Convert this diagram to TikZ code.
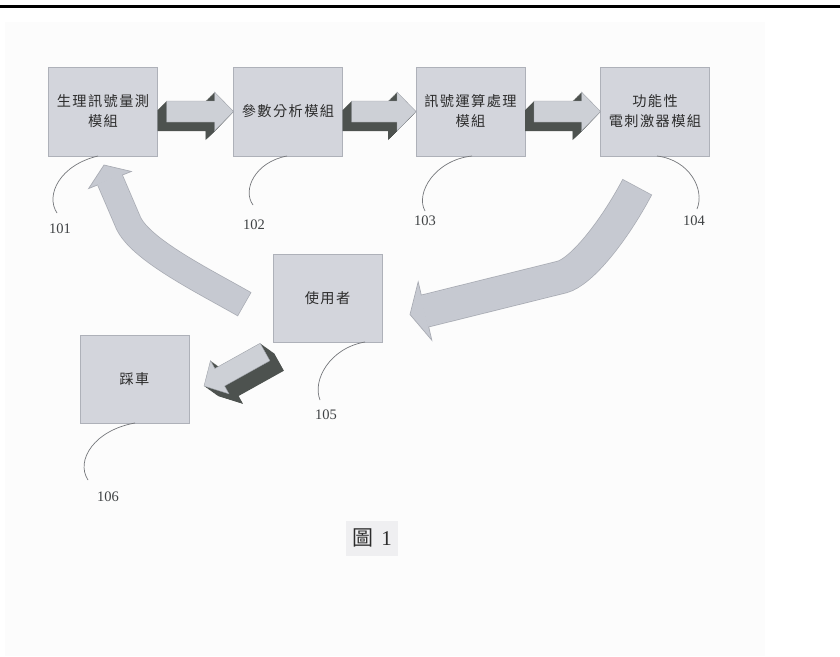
\documentclass[tikz,border=0pt]{standalone}
\usepackage{fontspec}
\setmainfont{Liberation Serif}
\newfontfamily\cjk[LetterSpace=10]{Noto Sans CJK TC}
\newfontfamily\cjkplain{Noto Sans CJK TC}
\usetikzlibrary{calc}
\definecolor{pagebg}{HTML}{FCFCFC}
\definecolor{boxfill}{HTML}{D3D5DC}
\definecolor{boxline}{HTML}{AEB1B9}
\definecolor{txtgray}{HTML}{2C2C2C}
\definecolor{lblgray}{HTML}{3F4244}
\definecolor{leadgray}{HTML}{75777B}
\definecolor{arrowfill}{HTML}{C6C9D1}
\definecolor{arrowline}{HTML}{A9ACB4}
\definecolor{tdfrontc}{HTML}{CDD0D6}
\definecolor{tdlinec}{HTML}{9EA2A9}
\definecolor{tddarkc}{HTML}{4D524F}
\definecolor{capbg}{HTML}{EFEFF1}
\tikzset{
  modbox/.style={draw=boxline, line width=0.6pt, fill=boxfill,
    minimum width=109pt, minimum height=89pt, inner sep=0pt, outer sep=0pt,
    text=txtgray, align=center, font=\cjk\fontsize{14.2}{20}\selectfont},
  lbl/.style={text=lblgray, font=\fontsize{14.5}{16}\selectfont, inner sep=1pt},
  leader/.style={draw=leadgray, line width=0.7pt},
  tdfront/.style={fill=tdfrontc, draw=tdlinec, line width=0.4pt},
  tddark/.style={fill=tddarkc},
}
\newcommand\tdarrow[7]{%
  \coordinate (tdT) at (#1);
  \coordinate (tdP) at (#2);
  \coordinate (tdH) at ($(tdP)!#5!(tdT)$);
  \coordinate (tdA) at ($(tdT)!#3!90:(tdP)$);
  \coordinate (tdB) at ($(tdH)!#3!90:(tdP)$);
  \coordinate (tdC) at ($(tdH)!#4!90:(tdP)$);
  \coordinate (tdE) at ($(tdH)!#4!-90:(tdP)$);
  \coordinate (tdF) at ($(tdH)!#3!-90:(tdP)$);
  \coordinate (tdG) at ($(tdT)!#3!-90:(tdP)$);
  \foreach \k in {1,0.95,...,0.04}{
    \fill[tddark] ($(tdA)+\k*(#6,#7)$) -- ($(tdB)+\k*(#6,#7)$) -- ($(tdC)+\k*(#6,#7)$)
      -- ($(tdP)+\k*(#6,#7)$) -- ($(tdE)+\k*(#6,#7)$) -- ($(tdF)+\k*(#6,#7)$)
      -- ($(tdG)+\k*(#6,#7)$) -- cycle;
  }
  \filldraw[tdfront] (tdA) -- (tdB) -- (tdC) -- (tdP) -- (tdE) -- (tdF) -- (tdG) -- cycle;
}
\begin{document}
\begin{tikzpicture}[x=1pt,y=-1pt]
\useasboundingbox (0,0) rectangle (840,656);
\fill[white] (0,0) rectangle (840,656);
\fill[pagebg] (5,22) rectangle (765,656);
\draw[line width=2.5pt] (0,6.5) -- (840,6.5);

% boxes
\node[modbox] (b101) at (103,111.5) {生理訊號量測\\模組};
\node[modbox] (b102) at (288,111.5) {參數分析模組};
\node[modbox] (b103) at (470.5,111.5) {訊號運算處理\\模組};
\node[modbox] (b104) at (655,111.5) {功能性\\電刺激器模組};
\node[modbox, minimum height=88pt] (b105) at (327.5,298) {使用者};
\node[modbox, minimum height=88pt] (b106) at (134.5,379) {踩車};

% labels
\node[lbl] (l101) at (60,229) {101};
\node[lbl] (l102) at (254,225) {102};
\node[lbl] (l103) at (425,221) {103};
\node[lbl] (l104) at (694,221) {104};
\node[lbl] (l105) at (326,415) {105};
\node[lbl] (l106) at (108,497) {106};

% leader curves
\draw[leader] ($(b101.south)+(-5,0)$) .. controls +(-38,9) and +(-12,-18) .. ($(l101.center)+(-3,-16)$);
\draw[leader] ($(b102.south)+(-1,0)$) .. controls +(-32,6) and +(-11,-15) .. ($(l102.center)+(-1,-20)$);
\draw[leader] ($(b103.south)+(1.5,0)$) .. controls +(-37,4) and +(-10,-18) .. ($(l103.center)+(0,-10)$);
\draw[leader] ($(b104.south)+(2,0)$) .. controls +(33,4) and +(8,-19) .. ($(l104.center)+(3,-12)$);
\draw[leader] ($(b105.south)+(37.5,0)$) .. controls +(-35,6) and +(-8,-20) .. ($(l105.center)+(-6,-15)$);
\draw[leader] ($(b106.south)+(0.5,0)$) .. controls +(-40,7) and +(-13,-20) .. ($(l106.center)+(-20,-17)$);

% straight 3D arrows
\tdarrow{$(b101.east)+(9,0)$}{b102.west}{10.5pt}{19.5pt}{19pt}{-9}{9}
\tdarrow{$(b102.east)+(9,0)$}{b103.west}{10.5pt}{19.5pt}{19pt}{-9}{9}
\tdarrow{$(b103.east)+(9,0)$}{b104.west}{10.5pt}{19.5pt}{19pt}{-9}{9}
\tdarrow{$(b105.south west)+(-8,10)$}{$(b106.east)+(15,7)$}{10pt}{19pt}{18pt}{14}{10}

% curved arrow 104 -> 105
\coordinate (ra0) at ($(b104.south west)+(36.5,31.5)$);
\coordinate (ra1) at (562,277);
\coordinate (rab) at ($(b105.east)+(43,13)$);
\coordinate (rat) at ($(b105.east)+(28,16.5)$);
\draw[line width=33.5pt, arrowline, shorten <=-0.7pt] (ra0) .. controls +(-23.5,44.5) and +(19,-5) .. (ra1) -- (rab);
\filldraw[fill=arrowfill, draw=arrowline, line width=0.7pt] ($(rab)!30pt!90:(rat)$) -- (rat) -- ($(rab)!30pt!-90:(rat)$) -- cycle;
\draw[line width=32pt, arrowfill] (ra0) .. controls +(-23.5,44.5) and +(19,-5) .. (ra1) -- ($(rab)!1pt!(rat)$);

% curved arrow 105 -> 101
\coordinate (la0) at ($(b105.west)+(-29,6)$);
\coordinate (la1) at (128,222);
\coordinate (lab) at ($(b101.south)+(7,24)$);
\coordinate (lat) at ($(b101.south)+(1,9)$);
\draw[line width=27.5pt, arrowline, shorten <=-0.7pt] (la0) .. controls +(-39.2,-22.5) and +(11.7,27.6) .. (la1) -- (lab);
\filldraw[fill=arrowfill, draw=arrowline, line width=0.7pt] ($(lab)!23pt!90:(lat)$) -- (lat) -- ($(lab)!23pt!-90:(lat)$) -- cycle;
\draw[line width=26pt, arrowfill] (la0) .. controls +(-39.2,-22.5) and +(11.7,27.6) .. (la1) -- ($(lab)!1pt!(lat)$);

% caption
\fill[capbg] (346,521) rectangle (398,556);
\node[text=txtgray, font=\fontsize{21}{22}\selectfont, inner sep=0pt] (cap) at (372,538) {{\cjkplain 圖}\hspace{0.4em}1};
\end{tikzpicture}
\end{document}
